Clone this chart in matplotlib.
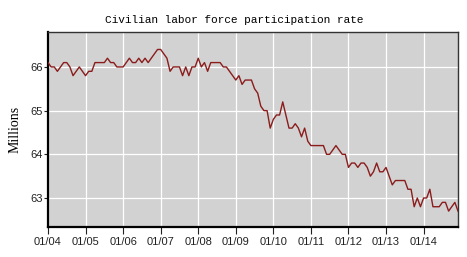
import matplotlib
matplotlib.use("Agg")
import matplotlib.pyplot as plt
import numpy as np

title = "Civilian labor force participation rate"
ylabel = "Millions"
tick_labels = ["01/04", "01/05", "01/06", "01/07", "01/08", "01/09",
               "01/10", "01/11", "01/12", "01/13", "01/14"]
y_ticks = [63, 64, 65, 66]

v2004 = [66.1, 66.0, 66.0, 65.9, 66.0, 66.1, 66.1, 66.0, 65.8, 65.9, 66.0, 65.9]
v2005 = [65.8, 65.9, 65.9, 66.1, 66.1, 66.1, 66.1, 66.2, 66.1, 66.1, 66.0, 66.0]
v2006 = [66.0, 66.1, 66.2, 66.1, 66.1, 66.2, 66.1, 66.2, 66.1, 66.2, 66.3, 66.4]
v2007 = [66.4, 66.3, 66.2, 65.9, 66.0, 66.0, 66.0, 65.8, 66.0, 65.8, 66.0, 66.0]
v2008 = [66.2, 66.0, 66.1, 65.9, 66.1, 66.1, 66.1, 66.1, 66.0, 66.0, 65.9, 65.8]
v2009 = [65.7, 65.8, 65.6, 65.7, 65.7, 65.7, 65.5, 65.4, 65.1, 65.0, 65.0, 64.6]
v2010 = [64.8, 64.9, 64.9, 65.2, 64.9, 64.6, 64.6, 64.7, 64.6, 64.4, 64.6, 64.3]
v2011 = [64.2, 64.2, 64.2, 64.2, 64.2, 64.0, 64.0, 64.1, 64.2, 64.1, 64.0, 64.0]
v2012 = [63.7, 63.8, 63.8, 63.7, 63.8, 63.8, 63.7, 63.5, 63.6, 63.8, 63.6, 63.6]
v2013 = [63.7, 63.5, 63.3, 63.4, 63.4, 63.4, 63.4, 63.2, 63.2, 62.8, 63.0, 62.8]
v2014 = [63.0, 63.0, 63.2, 62.8, 62.8, 62.8, 62.9, 62.9, 62.7, 62.8, 62.9, 62.7]

values = (v2004 + v2005 + v2006 + v2007 + v2008 + v2009 + v2010 +
          v2011 + v2012 + v2013 + v2014)
months = np.arange(len(values))

fig = plt.figure(figsize=(4.67, 2.57), dpi=100)
ax = fig.add_axes([48/467, 1-227/257, 410/467, 195/257])
ax.set_facecolor("#d2d2d2")

ax.plot(months, values, color="#8b1c1c", lw=1.0, zorder=3)

ax.set_xlim(0, 131)
ax.set_ylim(62.336, 66.80)
ax.set_xticks(np.arange(len(tick_labels)) * 12)
ax.set_xticklabels(tick_labels, family="Liberation Sans", fontsize=8)
ax.set_yticks(y_ticks)
ax.set_yticklabels([str(t) for t in y_ticks], family="Liberation Sans", fontsize=8)
ax.grid(True, color="white", lw=0.9, zorder=1)
ax.set_axisbelow(True)
ax.tick_params(axis="x", length=5, width=0.8, color="#222222", pad=2, labelcolor="#222222")
ax.tick_params(axis="y", length=3, width=0.8, color="#222222", pad=1, labelcolor="#222222")
for s in ax.spines.values():
    s.set_color("#333333")
    s.set_linewidth(1.0)
ax.spines["left"].set_linewidth(1.6)
ax.spines["bottom"].set_linewidth(1.6)
ax.spines["left"].set_color("black")
ax.spines["bottom"].set_color("black")

ax.set_ylabel(ylabel, family="Liberation Serif", fontsize=10, labelpad=6)
fig.text(234/467, 1-20/257, title, family="Liberation Mono", fontsize=8,
         ha="center", va="center")

fig.savefig("out.png", dpi=100, facecolor="white")
